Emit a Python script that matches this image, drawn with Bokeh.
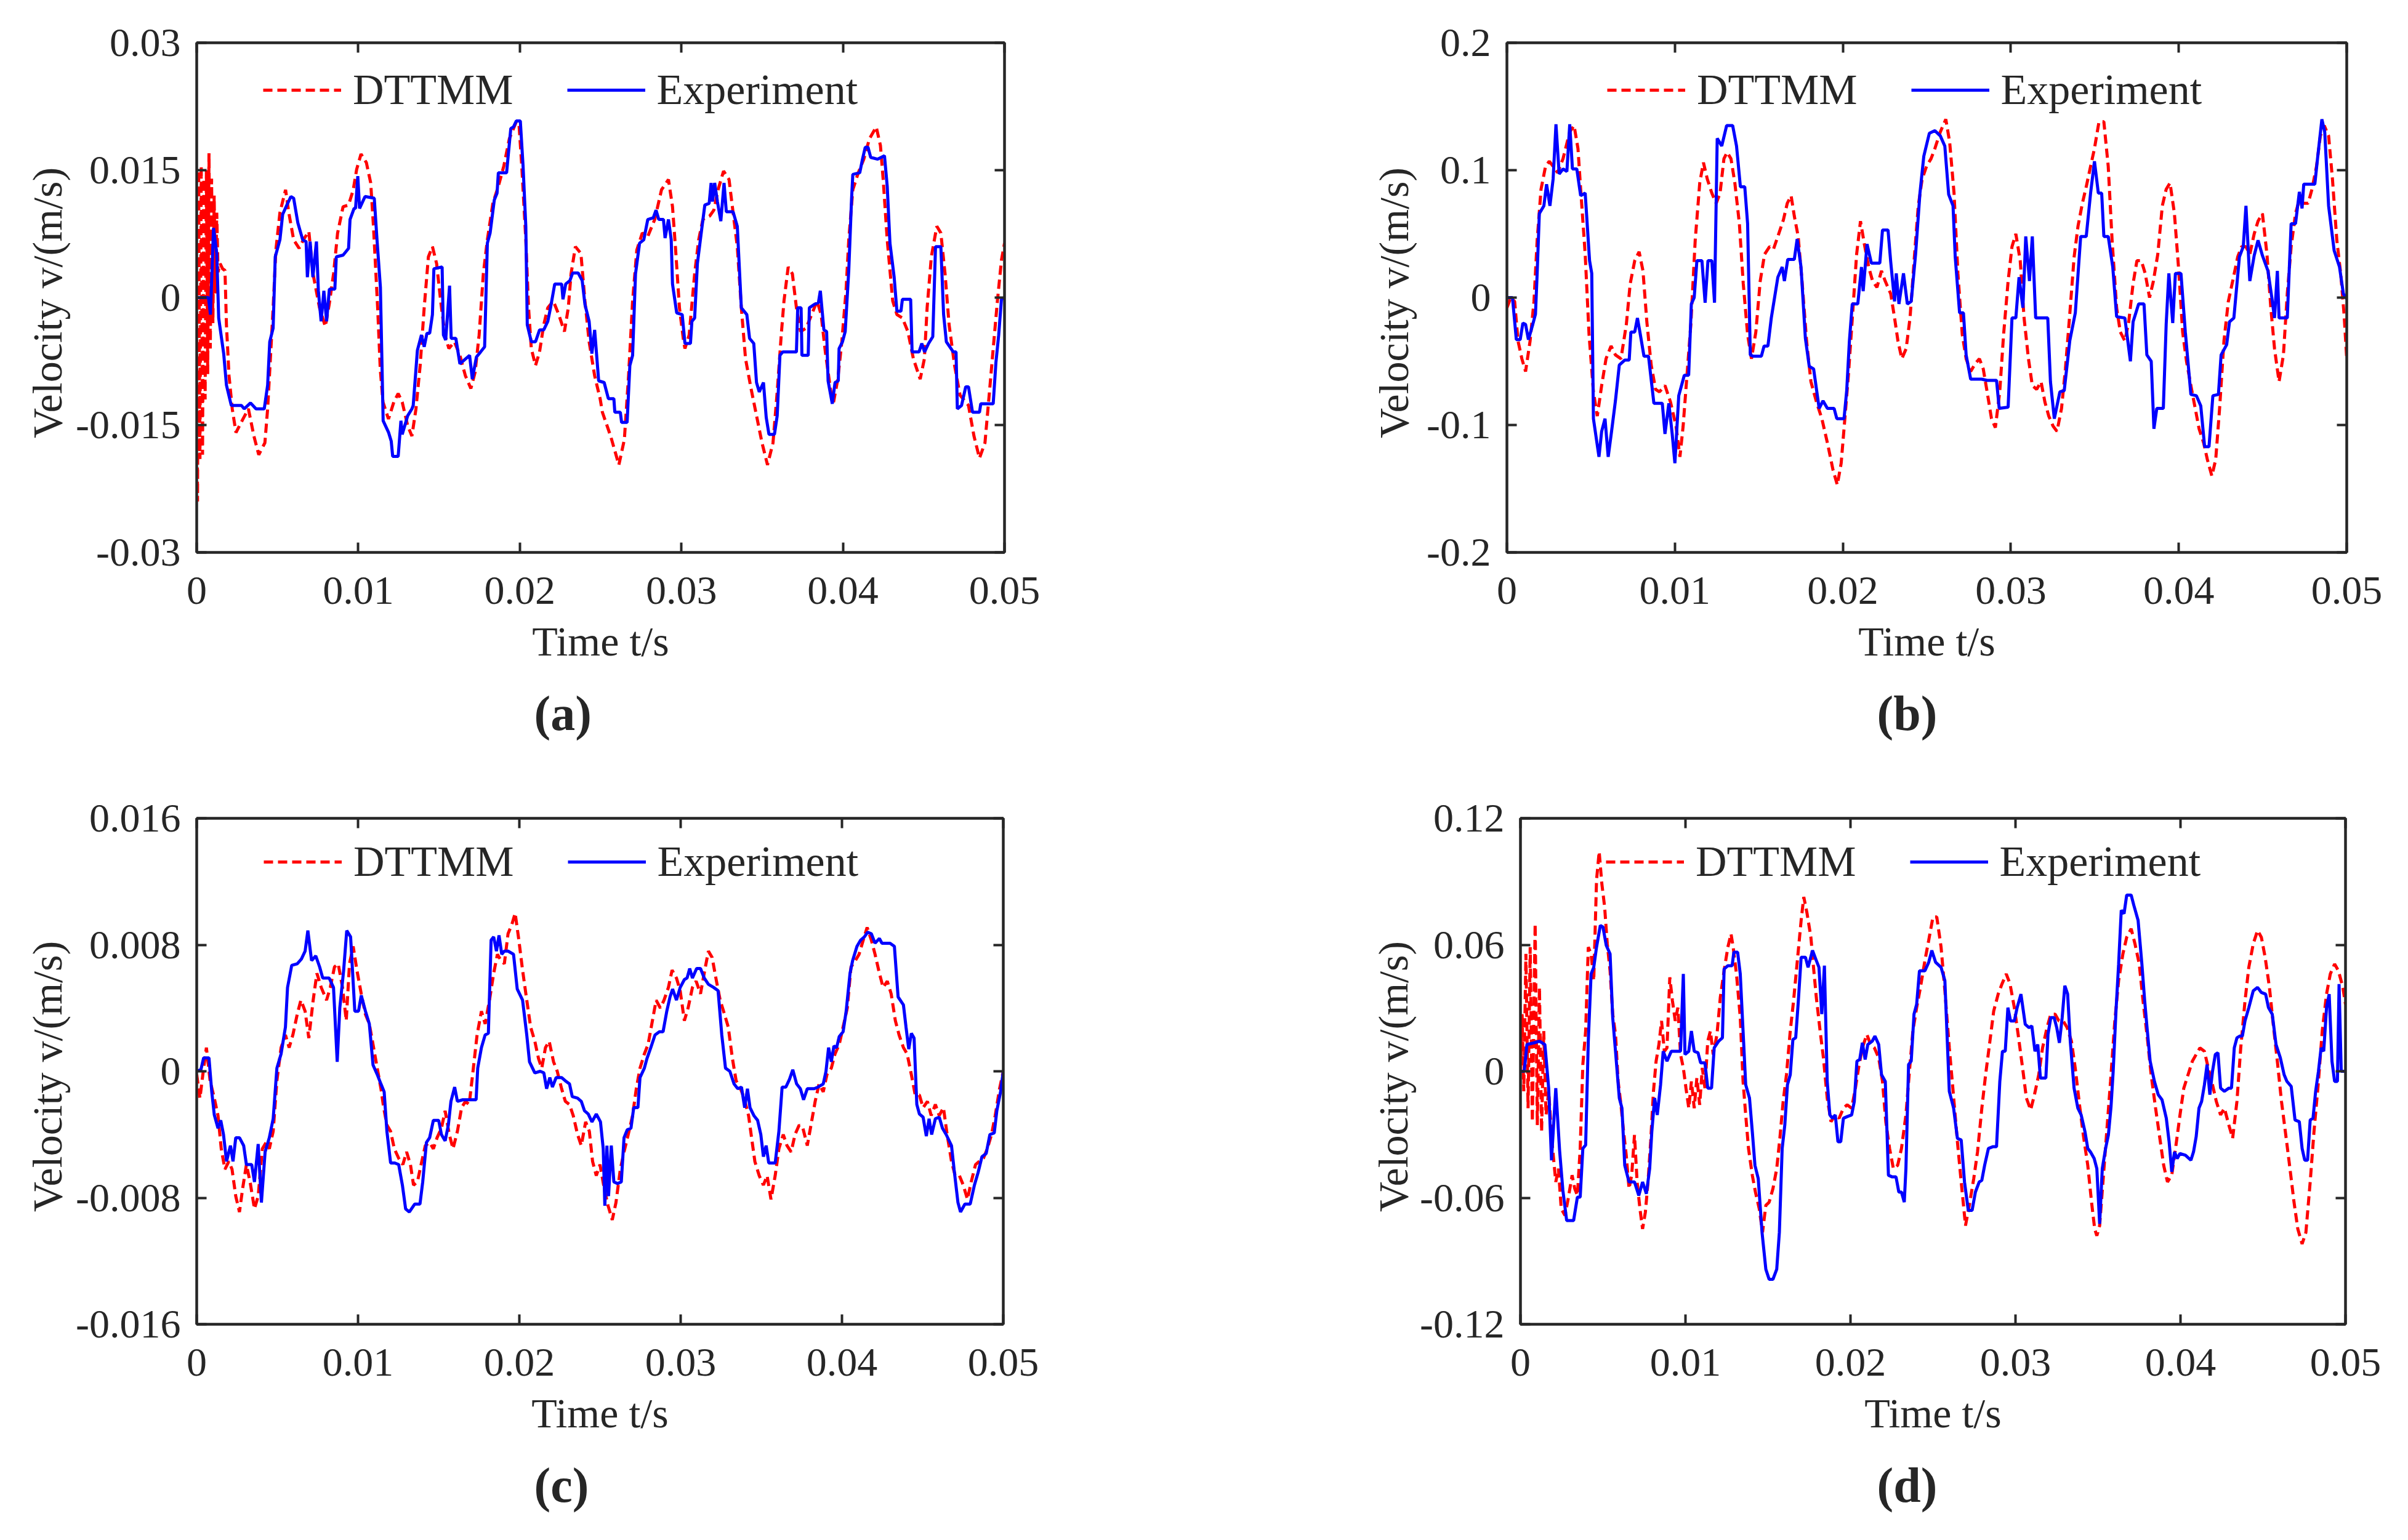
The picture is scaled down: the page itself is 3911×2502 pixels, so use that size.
import numpy as np
from bokeh.plotting import figure
from bokeh.models import (Range1d, LinearAxis, FixedTicker, CustomJSTickFormatter,
                          Legend, LegendItem, Title)
from bokeh.layouts import column, row
from bokeh.embed import file_html
from bokeh.resources import INLINE

# time in ms, velocity in mm/s for (a), (c), (d) and in m/s for (b)

# (a)
t_a_sim = [0, 0.05, 0.12, 0.20, 0.28, 0.36, 0.44, 0.52, 0.60, 0.68, 0.76, 0.84, 0.92, 1.00, 1.08, 1.16, 1.24, 1.32, 1.45, 1.60,
           1.75, 1.84, 2.0, 2.2, 2.43, 2.86, 3.2, 3.54, 3.84, 4.22, 4.39, 4.56, 4.73, 4.90, 5.15, 5.50, 5.70, 6.00, 6.34, 6.60,
           6.94, 7.20, 7.60, 7.96, 8.20, 8.47, 8.72, 9.06, 9.40, 9.69, 9.90, 10.17, 10.50, 10.77, 10.94, 11.20, 11.36, 11.53, 11.87, 12.20,
           12.47, 12.72, 13.06, 13.32, 13.57, 13.83, 14.08, 14.34, 14.59, 14.85, 15.10, 15.36, 15.61, 15.95, 16.29, 16.63, 16.97, 17.23, 17.48, 17.74,
           17.99, 18.33, 18.67, 19.01, 19.35, 19.78, 19.95, 20.12, 20.37, 20.54, 20.71, 20.97, 21.22, 21.48, 21.73, 22.07, 22.41, 22.76, 23.00, 23.17,
           23.44, 23.78, 24.03, 24.29, 24.63, 24.97, 25.11, 25.62, 26.13, 26.47, 26.73, 26.98, 27.24, 27.58, 27.92, 28.35, 28.77, 29.20, 29.45, 29.63,
           29.88, 30.14, 30.22, 30.48, 30.82, 31.07, 31.33, 31.75, 32.01, 32.27, 32.61, 32.95, 33.20, 33.46, 33.71, 33.97, 34.31, 34.65, 34.99, 35.33,
           35.67, 35.93, 36.18, 36.35, 36.61, 36.87, 37.12, 37.38, 37.72, 38.06, 38.40, 38.65, 38.91, 39.25, 39.42, 39.68, 39.93, 40.19, 40.36, 40.61,
           40.95, 41.29, 41.64, 42.06, 42.32, 42.49, 42.74, 43.08, 43.34, 43.68, 44.02, 44.36, 44.78, 45.04, 45.21, 45.47, 45.81, 46.06, 46.32, 46.57,
           46.91, 47.25, 47.77, 48.11, 48.45, 48.79, 49.05, 49.30, 49.56, 49.81, 50.00]
v_a_sim = [0, -24.0, 15.0, -19.0, 15.5, -18.5, 14.0, -12.0, 15.0, -9.0, 17.0, -6.0, 14.0, -3.0, 12.0, 0.5, 10.0, 3.0, 4.0, 3.4,
           3.2, -3.2, -9.2, -13.1, -15.9, -14.3, -13.1, -16.3, -18.5, -17.1, -13.1, -7.2, -1.2, 5.6, 10.0, 12.7, 10.0, 6.8, 5.8, 6.8,
           7.8, 2.8, -1.2, -3.4, -0.8, 2.8, 7.6, 10.7, 10.9, 12.7, 15.1, 16.9, 15.9, 13.5, 8.4, -1.2, -8.4, -12.3, -14.3, -12.3,
           -11.3, -12.3, -15.1, -16.3, -13.1, -8.0, -1.2, 4.8, 6.0, 4.0, -0.4, -4.4, -6.0, -5.2, -6.8, -9.2, -10.7, -8.8, -4.4, 2.8,
           6.8, 11.1, 13.1, 15.5, 18.7, 20.7, 20.3, 15.5, 6.8, -1.2, -6.0, -8.0, -6.4, -3.2, -1.2, -0.4, -2.0, -4.0, -1.2, 2.8,
           6.0, 5.2, -0.4, -5.2, -9.2, -11.9, -13.5, -16.3, -19.7, -16.7, -9.2, -0.4, 5.6, 7.6, 7.2, 9.2, 12.7, 13.9, 10.7, 6.0,
           -1.2, -5.2, -6.0, -4.4, 2.8, 6.8, 9.2, 9.6, 10.3, 12.7, 14.9, 13.9, 10.0, 6.0, -1.2, -7.2, -10.7, -13.9, -17.1, -19.7,
           -17.1, -11.1, -4.4, -0.4, 3.6, 2.8, -1.2, -4.0, -3.6, -2.0, -0.4, -2.0, -6.4, -11.1, -12.3, -9.6, -5.2, 0.8, 6.8, 12.7,
           14.7, 16.3, 18.7, 20.1, 17.9, 13.9, 6.8, -0.4, -2.0, -2.4, -4.0, -7.2, -9.6, -7.2, -1.2, 4.8, 8.4, 7.6, 2.8, -3.2,
           -8.0, -11.5, -12.7, -16.3, -18.9, -17.1, -11.5, -6.0, -0.4, 4.4, 6.4]
t_a_exp = [0, 0.73, 0.85, 1.04, 1.24, 1.36, 1.67, 1.84, 2.14, 2.77, 2.94, 3.33, 3.67, 4.18, 4.39, 4.52, 4.73, 4.86, 5.15, 5.32,
           5.58, 5.83, 6.0, 6.26, 6.56, 6.77, 6.85, 7.02, 7.19, 7.41, 7.53, 7.70, 7.87, 8.04, 8.21, 8.55, 8.64, 9.06, 9.40, 9.49,
           9.74, 9.83, 9.97, 10.08, 10.42, 10.99, 11.16, 11.37, 11.54, 11.88, 12.04, 12.13, 12.47, 12.64, 12.72, 13.06, 13.32, 13.40, 13.66, 13.91,
           14.08, 14.25, 14.42, 14.59, 14.68, 15.19, 15.27, 15.41, 15.65, 15.75, 16.04, 16.29, 16.89, 17.06, 17.31, 17.57, 17.82, 17.99, 18.16, 18.42,
           18.59, 18.67, 19.18, 19.44, 19.61, 19.78, 20.03, 20.20, 20.37, 20.46, 20.71, 20.97, 21.22, 21.48, 21.73, 21.90, 22.16, 22.59, 22.67, 22.84,
           23.10, 23.27, 23.61, 23.86, 24.03, 24.29, 24.46, 24.63, 24.88, 25.22, 25.48, 25.82, 25.88, 26.22, 26.30, 26.64, 26.81, 26.98, 27.16, 27.41,
           27.67, 27.92, 28.26, 28.43, 28.60, 28.89, 28.99, 29.20, 29.37, 29.45, 29.71, 30.05, 30.22, 30.56, 30.65, 30.82, 30.99, 31.24, 31.45, 31.72,
           31.84, 31.93, 32.06, 32.23, 32.44, 32.64, 32.78, 33.20, 33.46, 33.71, 34.05, 34.22, 34.48, 34.65, 34.82, 35.08, 35.25, 35.42, 35.76, 35.93,
           36.10, 36.27, 37.12, 37.20, 37.41, 37.46, 37.85, 37.92, 38.23, 38.48, 38.60, 38.82, 38.99, 39.08, 39.34, 39.51, 39.71, 39.76, 39.97, 40.14,
           40.36, 40.53, 40.61, 41.04, 41.21, 41.38, 41.55, 41.72, 42.15, 42.57, 42.74, 42.91, 43.17, 43.34, 43.59, 43.68, 44.19, 44.28, 44.71, 44.88,
           45.05, 45.30, 45.56, 45.73, 46.06, 46.23, 46.40, 46.83, 47.00, 47.08, 47.34, 47.60, 47.77, 48.02, 48.45, 48.53, 49.30, 49.47, 49.64, 49.81,
           50.0]
v_a_exp = [0, 0, -2.0, 8.2, 5.2, -2.4, -6.6, -10.3, -12.7, -12.7, -13.1, -12.4, -13.1, -13.1, -10.3, -5.2, -3.6, 4.8, 6.8, 9.8,
           10.9, 11.9, 11.7, 8.8, 6.8, 6.6, 2.4, 6.6, 2.4, 6.6, 0.8, -2.8, 0.8, -2.8, 1.0, 1.0, 4.8, 5.0, 5.8, 9.2,
           10.5, 10.5, 14.3, 10.5, 11.9, 11.7, 6.8, 1.2, -14.5, -15.9, -16.9, -18.7, -18.7, -14.5, -16.1, -13.9, -13.1, -12.7, -6.2, -4.4,
           -5.8, -4.2, -4.2, -2.0, 3.4, 3.6, -4.4, -5.0, 1.4, -4.8, -4.8, -7.8, -6.8, -9.6, -7.0, -6.4, -5.8, 6.4, 7.6, 11.5,
           12.3, 14.7, 14.7, 19.9, 20.1, 20.8, 20.8, 15.5, 8.4, -3.2, -5.2, -5.2, -3.8, -3.8, -2.8, -1.2, 1.6, 1.6, -0.2, 1.6,
           2.0, 2.9, 2.9, 2.0, -0.8, -2.8, -6.6, -3.8, -9.8, -10.0, -11.9, -11.9, -13.5, -13.5, -14.7, -14.7, -8.0, -6.8, 2.8, 6.4,
           6.8, 9.2, 9.4, 10.3, 9.2, 9.2, 7.0, 9.2, 6.8, 1.6, -1.8, -2.0, -5.4, -5.4, -2.8, -2.4, 4.0, 7.8, 10.9, 11.1,
           13.5, 11.3, 13.5, 11.3, 9.0, 13.5, 10.1, 10.1, 8.4, -1.2, -2.0, -4.8, -5.4, -10.0, -11.1, -10.0, -14.1, -16.1, -16.1, -13.9,
           -6.8, -6.4, -6.4, -1.2, -1.2, -6.8, -6.8, -1.2, -0.8, -0.6, 0.8, -3.8, -4.0, -9.8, -12.5, -10.0, -9.8, -6.0, -5.2, -4.0,
           3.2, 11.5, 14.5, 14.7, 16.3, 17.7, 17.7, 16.5, 16.3, 16.7, 13.1, 6.4, 2.4, -1.6, -1.6, -0.2, -0.2, -6.4, -6.4, -5.4,
           -6.4, -5.4, -4.6, 6.0, 6.0, -2.0, -5.2, -6.4, -6.4, -13.1, -12.7, -10.5, -10.5, -13.5, -13.5, -12.5, -12.5, -7.6, -4.4, -0.2,
           0]

# (b)
t_b_sim = [0, 0.23, 0.46, 0.66, 0.89, 1.11, 1.38, 1.61, 1.80, 2.03, 2.30, 2.52, 2.75, 3.02, 3.34, 3.74, 4.0, 4.23, 4.39, 4.66,
           4.89, 5.15, 5.38, 5.64, 5.90, 6.20, 6.46, 6.79, 7.11, 7.34, 7.61, 7.87, 8.10, 8.33, 8.59, 8.85, 9.08, 9.41, 9.74, 10.07,
           10.30, 10.49, 10.72, 10.95, 11.21, 11.48, 11.70, 11.93, 12.20, 12.46, 12.69, 12.92, 13.11, 13.34, 13.57, 13.84, 14.07, 14.33, 14.56, 14.82,
           15.08, 15.34, 15.64, 15.87, 16.13, 16.46, 16.69, 16.92, 17.11, 17.34, 17.57, 17.84, 18.10, 18.43, 18.75, 19.08, 19.41, 19.67, 19.90, 20.07,
           20.33, 20.59, 20.82, 21.05, 21.28, 21.54, 21.77, 22.03, 22.30, 22.52, 22.85, 23.08, 23.28, 23.51, 23.77, 24.0, 24.26, 24.49, 24.72, 24.98,
           25.25, 25.48, 25.80, 26.13, 26.36, 26.62, 26.85, 27.11, 27.34, 27.61, 27.87, 28.13, 28.36, 28.59, 28.85, 29.08, 29.34, 29.57, 29.84, 30.07,
           30.30, 30.56, 30.79, 31.05, 31.28, 31.54, 31.80, 32.03, 32.26, 32.52, 32.75, 33.02, 33.25, 33.51, 33.77, 34.0, 34.26, 34.49, 34.75, 34.98,
           35.25, 35.54, 35.80, 36.03, 36.30, 36.52, 36.79, 37.02, 37.28, 37.51, 37.77, 38.0, 38.26, 38.49, 38.75, 39.02, 39.25, 39.48, 39.74, 40.0,
           40.23, 40.46, 40.72, 40.98, 41.21, 41.48, 41.70, 41.97, 42.20, 42.43, 42.69, 42.95, 43.21, 43.51, 43.74, 44.0, 44.23, 44.49, 44.72, 44.98,
           45.25, 45.48, 45.70, 45.97, 46.23, 46.46, 46.69, 46.95, 47.18, 47.44, 47.70, 47.93, 48.20, 48.43, 48.66, 48.92, 49.15, 49.41, 49.64, 49.84,
           50.0]
v_b_sim = [-0.008, 0, -0.003, -0.034, -0.048, -0.058, -0.034, -0.003, 0.045, 0.085, 0.103, 0.107, 0.103, 0.098, 0.109, 0.130, 0.135, 0.117, 0.085, 0.034,
           -0.029, -0.074, -0.093, -0.069, -0.048, -0.038, -0.045, -0.048, -0.021, 0.011, 0.029, 0.036, 0.021, -0.019, -0.053, -0.072, -0.074, -0.069, -0.082, -0.101,
           -0.125, -0.101, -0.061, -0.021, 0.045, 0.090, 0.106, 0.093, 0.082, 0.074, 0.082, 0.109, 0.114, 0.109, 0.090, 0.058, 0.011, -0.029, -0.048, -0.027,
           0.013, 0.034, 0.040, 0.038, 0.048, 0.061, 0.074, 0.080, 0.064, 0.048, 0.013, -0.034, -0.066, -0.082, -0.095, -0.114, -0.135, -0.147, -0.130, -0.103,
           -0.061, -0.011, 0.034, 0.060, 0.042, 0.024, 0.013, 0.008, 0.021, 0.013, 0.003, -0.016, -0.034, -0.048, -0.040, -0.016, 0.032, 0.072, 0.093, 0.103,
           0.109, 0.117, 0.130, 0.140, 0.122, 0.082, 0.019, -0.029, -0.048, -0.058, -0.052, -0.048, -0.056, -0.074, -0.095, -0.102, -0.074, -0.029, 0.013, 0.040,
           0.050, 0.029, -0.016, -0.048, -0.069, -0.072, -0.066, -0.082, -0.093, -0.101, -0.105, -0.087, -0.056, -0.013, 0.032, 0.056, 0.074, 0.087, 0.103, 0.117,
           0.138, 0.138, 0.103, 0.045, -0.008, -0.027, -0.034, -0.019, 0.011, 0.029, 0.029, 0.019, 0, 0.013, 0.034, 0.072, 0.085, 0.090, 0.066, 0.021,
           -0.027, -0.050, -0.069, -0.087, -0.103, -0.114, -0.127, -0.140, -0.127, -0.087, -0.034, -0.003, 0.013, 0.032, 0.040, 0.040, 0.034, 0.050, 0.060, 0.066,
           0.034, -0.008, -0.040, -0.066, -0.045, 0.003, 0.040, 0.066, 0.077, 0.074, 0.074, 0.085, 0.103, 0.127, 0.135, 0.127, 0.093, 0.045, 0.019, -0.013,
           -0.048]
t_b_exp = [0, 0.33, 0.56, 0.79, 0.95, 1.11, 1.28, 1.54, 1.70, 1.80, 1.93, 2.20, 2.36, 2.56, 2.75, 2.92, 3.11, 3.34, 3.57, 3.74,
           3.90, 4.16, 4.39, 4.66, 4.92, 5.05, 5.15, 5.48, 5.64, 5.84, 6.03, 6.23, 6.46, 6.69, 7.02, 7.28, 7.38, 7.61, 7.77, 7.93,
           8.16, 8.43, 8.75, 9.25, 9.41, 9.64, 9.84, 10.0, 10.23, 10.56, 10.82, 10.98, 11.15, 11.31, 11.61, 11.80, 11.97, 12.20, 12.36, 12.52,
           12.79, 13.08, 13.44, 13.67, 13.90, 14.16, 14.33, 14.49, 14.66, 15.15, 15.31, 15.54, 15.74, 16.13, 16.39, 16.52, 16.72, 17.11, 17.28, 17.51,
           17.77, 18.0, 18.26, 18.59, 18.82, 19.08, 19.48, 19.64, 20.07, 20.23, 20.39, 20.56, 20.89, 21.11, 21.21, 21.44, 21.70, 22.20, 22.36, 22.69,
           22.85, 23.08, 23.18, 23.34, 23.61, 23.84, 24.07, 24.33, 24.59, 24.82, 25.15, 25.48, 25.80, 26.07, 26.30, 26.56, 26.69, 26.95, 27.18, 27.34,
           27.61, 28.26, 28.59, 29.15, 29.31, 29.84, 30.07, 30.30, 30.49, 30.72, 30.89, 31.11, 31.28, 31.48, 32.20, 32.36, 32.59, 32.92, 33.18, 33.51,
           33.84, 34.16, 34.49, 34.75, 34.98, 35.21, 35.41, 35.54, 35.80, 36.07, 36.30, 36.79, 37.12, 37.28, 37.61, 37.93, 38.10, 38.36, 38.52, 38.69,
           39.08, 39.25, 39.41, 39.64, 39.80, 40.13, 40.39, 40.72, 41.05, 41.31, 41.54, 41.80, 42.03, 42.36, 42.52, 42.85, 43.02, 43.28, 43.61, 43.84,
           44.00, 44.23, 44.49, 44.72, 44.98, 45.31, 45.54, 45.70, 45.87, 45.97, 46.46, 46.69, 46.95, 47.18, 47.34, 47.44, 48.10, 48.26, 48.52, 48.69,
           48.92, 49.25, 49.57, 49.80, 50.0]
v_b_exp = [0, 0, -0.033, -0.033, -0.020, -0.021, -0.033, -0.021, -0.013, 0.019, 0.066, 0.072, 0.089, 0.072, 0.093, 0.136, 0.097, 0.101, 0.099, 0.136,
           0.101, 0.101, 0.080, 0.082, 0.029, 0.019, -0.095, -0.125, -0.105, -0.095, -0.125, -0.105, -0.081, -0.053, -0.049, -0.049, -0.027, -0.027, -0.016, -0.028,
           -0.046, -0.046, -0.083, -0.083, -0.107, -0.083, -0.107, -0.130, -0.077, -0.061, -0.061, -0.005, 0, 0.029, 0.029, -0.004, 0.029, 0.029, -0.004, 0.125,
           0.119, 0.135, 0.135, 0.119, 0.087, 0.087, 0.058, -0.045, -0.046, -0.046, -0.038, -0.038, -0.016, 0.016, 0.024, 0.013, 0.030, 0.030, 0.046, 0.024,
           -0.032, -0.054, -0.056, -0.087, -0.081, -0.087, -0.087, -0.095, -0.095, -0.073, -0.034, -0.005, -0.005, 0.024, 0.005, 0.042, 0.027, 0.027, 0.053, 0.053,
           0.028, -0.003, 0.019, -0.005, 0.019, -0.005, -0.003, 0.034, 0.082, 0.111, 0.129, 0.131, 0.127, 0.119, 0.081, 0.072, 0.032, -0.012, -0.012, -0.045,
           -0.064, -0.064, -0.065, -0.065, -0.087, -0.086, -0.016, -0.016, 0.016, -0.008, 0.048, 0.013, 0.048, -0.016, -0.016, -0.066, -0.095, -0.074, -0.073, -0.034,
           -0.012, 0.048, 0.048, 0.082, 0.107, 0.082, 0.082, 0.048, 0.048, 0.024, -0.015, -0.016, -0.050, -0.019, -0.005, -0.005, -0.045, -0.050, -0.103, -0.087,
           -0.087, -0.021, 0.019, -0.020, 0.019, 0.019, -0.027, -0.076, -0.077, -0.085, -0.117, -0.117, -0.077, -0.076, -0.045, -0.037, -0.019, -0.016, 0.032, 0.040,
           0.072, 0.013, 0.033, 0.045, 0.033, 0.021, 0, -0.016, 0.021, -0.016, -0.016, 0.058, 0.058, 0.083, 0.070, 0.089, 0.089, 0.109, 0.140, 0.130,
           0.072, 0.037, 0.024, 0.003, -0.001]

# (c)
t_c_sim = [0, 0.2, 0.43, 0.6, 0.83, 1.09, 1.32, 1.52, 1.75, 1.99, 2.19, 2.42, 2.65, 2.85, 3.08, 3.31, 3.58, 3.81, 4.07, 4.30,
           4.50, 4.74, 4.97, 5.23, 5.50, 5.73, 5.96, 6.23, 6.46, 6.72, 6.95, 7.22, 7.45, 7.72, 8.05, 8.28, 8.54, 8.77, 9.04, 9.27,
           9.47, 9.70, 9.93, 10.20, 10.46, 10.70, 10.93, 11.19, 11.42, 11.59, 11.79, 12.02, 12.25, 12.52, 12.78, 13.01, 13.25, 13.44, 13.68, 13.91,
           14.17, 14.44, 14.67, 14.90, 15.17, 15.40, 15.66, 15.89, 16.16, 16.42, 16.66, 16.89, 17.15, 17.38, 17.65, 17.88, 18.15, 18.41, 18.64, 18.87,
           19.07, 19.30, 19.54, 19.74, 19.97, 20.20, 20.46, 20.70, 20.96, 21.19, 21.39, 21.62, 21.85, 22.12, 22.35, 22.62, 22.85, 23.11, 23.34, 23.61,
           23.84, 24.11, 24.34, 24.54, 24.77, 25.0, 25.26, 25.50, 25.76, 25.99, 26.26, 26.49, 26.75, 27.02, 27.25, 27.48, 27.75, 27.98, 28.25, 28.48,
           28.74, 28.97, 29.24, 29.47, 29.74, 29.97, 30.23, 30.46, 30.73, 30.96, 31.23, 31.46, 31.72, 31.95, 32.22, 32.45, 32.72, 32.95, 33.21, 33.44,
           33.71, 33.94, 34.21, 34.37, 34.60, 34.87, 35.13, 35.36, 35.60, 35.86, 36.09, 36.36, 36.59, 36.85, 37.09, 37.35, 37.58, 37.85, 38.08, 38.34,
           38.58, 38.84, 39.07, 39.34, 39.57, 39.83, 40.07, 40.33, 40.56, 40.83, 41.06, 41.32, 41.56, 41.82, 42.05, 42.32, 42.55, 42.81, 43.05, 43.31,
           43.54, 43.81, 44.04, 44.30, 44.54, 44.80, 45.03, 45.30, 45.53, 45.79, 46.03, 46.29, 46.52, 46.79, 47.02, 47.28, 47.52, 47.78, 48.01, 48.28,
           48.51, 48.77, 49.01, 49.27, 49.50, 49.77, 50.0]
v_c_sim = [-0.2, -1.7, 0.2, 1.5, -0.6, -1.7, -2.8, -4.9, -6.2, -5.7, -6.2, -7.9, -8.9, -7.4, -5.9, -7.0, -8.7, -7.9, -4.9, -4.5,
           -4.9, -3.8, -0.6, 1.5, 2.3, 1.5, 2.3, 3.6, 4.5, 3.8, 2.1, 4.5, 6.2, 5.3, 4.5, 5.3, 6.6, 6.8, 5.3, 3.2,
           6.8, 7.9, 6.4, 4.9, 3.6, 3.0, 1.7, 0.2, -1.1, -2.3, -3.4, -3.8, -4.9, -5.5, -5.9, -5.1, -5.9, -7.2, -7.0, -5.9,
           -4.7, -4.5, -4.9, -4.2, -3.6, -2.5, -4.0, -4.9, -3.8, -2.3, -1.9, -2.1, 0.2, 2.3, 3.8, 3.0, 4.5, 6.2, 7.4, 7.0,
           6.8, 8.7, 9.3, 10.0, 8.3, 6.4, 4.5, 2.8, 1.9, 0.8, 0.2, 1.5, 1.9, 0.6, 0, -1.1, -1.9, -2.1, -2.8, -4.0,
           -4.7, -3.2, -3.8, -5.7, -6.6, -5.9, -7.4, -8.5, -9.4, -8.3, -6.2, -5.1, -4.0, -2.8, -1.1, 0.2, 1.1, 1.7, 3.2, 4.5,
           4.0, 4.5, 5.3, 6.4, 5.9, 5.1, 3.2, 4.0, 5.3, 5.7, 4.9, 6.2, 7.6, 7.2, 5.7, 4.5, 3.6, 2.8, 0.8, -0.6,
           -1.1, -1.7, -2.8, -4.0, -5.7, -6.6, -7.2, -6.6, -8.1, -6.6, -4.9, -4.0, -4.7, -5.1, -4.0, -3.4, -3.6, -4.7, -3.4, -1.9,
           -0.8, -1.3, -0.2, 0.2, 1.1, 1.7, 2.8, 4.0, 6.6, 7.0, 7.4, 8.3, 9.1, 8.3, 7.4, 6.2, 5.3, 5.7, 4.9, 3.2,
           2.3, 1.5, 1.1, -0.2, -1.5, -1.5, -2.3, -1.9, -2.8, -2.1, -2.8, -2.3, -4.0, -5.7, -6.6, -6.6, -7.2, -8.1, -7.0, -5.9,
           -5.7, -5.5, -4.9, -4.0, -2.8, -1.1, 0]
t_c_exp = [0, 0.26, 0.43, 0.76, 0.93, 1.09, 1.32, 1.49, 1.66, 1.85, 2.09, 2.25, 2.42, 2.65, 2.91, 3.08, 3.41, 3.58, 3.81, 4.01,
           4.24, 4.50, 4.74, 4.97, 5.23, 5.50, 5.63, 5.89, 6.23, 6.49, 6.72, 6.89, 7.12, 7.38, 7.62, 7.81, 8.21, 8.48, 8.71, 8.87,
           9.11, 9.30, 9.54, 9.80, 10.03, 10.20, 10.46, 10.70, 10.93, 11.19, 11.42, 11.62, 11.79, 12.02, 12.28, 12.52, 12.75, 12.95, 13.18, 13.51,
           13.84, 14.01, 14.24, 14.44, 14.67, 15.0, 15.17, 15.40, 15.60, 15.76, 15.99, 16.16, 16.49, 16.99, 17.32, 17.42, 17.65, 17.88, 18.08, 18.25,
           18.41, 18.58, 18.74, 18.91, 19.07, 19.30, 19.64, 19.87, 20.20, 20.46, 20.63, 20.96, 21.29, 21.52, 21.69, 21.89, 22.05, 22.28, 22.62, 22.85,
           23.11, 23.28, 23.61, 23.84, 24.04, 24.27, 24.50, 24.77, 25.03, 25.20, 25.30, 25.43, 25.53, 25.70, 25.86, 26.09, 26.32, 26.49, 26.69, 26.92,
           27.09, 27.35, 27.48, 27.75, 27.91, 28.15, 28.41, 28.68, 28.91, 29.14, 29.34, 29.50, 29.74, 29.97, 30.23, 30.40, 30.56, 30.73, 30.99, 31.23,
           31.46, 31.72, 32.05, 32.32, 32.55, 32.78, 33.05, 33.31, 33.54, 33.77, 33.97, 34.14, 34.30, 34.54, 34.77, 34.97, 35.13, 35.30, 35.46, 35.86,
           36.09, 36.29, 36.52, 36.75, 36.95, 37.19, 37.42, 37.62, 37.85, 38.28, 38.51, 38.84, 39.01, 39.17, 39.34, 39.50, 39.67, 39.83, 40.07, 40.26,
           40.50, 40.66, 40.93, 41.16, 41.39, 41.59, 41.82, 42.05, 42.32, 42.48, 42.98, 43.25, 43.48, 43.81, 43.97, 44.14, 44.30, 44.47, 44.64, 44.80,
           45.03, 45.23, 45.40, 45.56, 45.79, 46.03, 46.23, 46.46, 46.79, 46.95, 47.19, 47.35, 47.62, 47.95, 48.21, 48.44, 48.68, 48.94, 49.17, 49.44,
           49.60, 49.83, 50.0]
v_c_exp = [0, 0.1, 0.85, 0.85, -1.27, -2.76, -3.6, -3.1, -4.0, -5.7, -4.7, -5.7, -4.2, -4.2, -4.7, -5.9, -5.9, -7.0, -4.6, -8.3,
           -5.1, -4.2, -3.0, 0.2, 1.1, 2.8, 5.3, 6.7, 6.8, 7.1, 7.6, 8.9, 7.0, 7.3, 6.6, 5.9, 5.9, 5.3, 0.6, 4.0,
           6.4, 8.9, 8.5, 3.8, 3.8, 4.8, 3.8, 3.0, 0.4, -0.2, -0.8, -1.3, -3.8, -5.8, -5.8, -5.9, -7.2, -8.7, -8.9, -8.4,
           -8.4, -7.0, -4.5, -4.2, -3.1, -3.1, -4.0, -4.4, -3.4, -1.9, -1.0, -1.9, -1.8, -1.8, -1.8, 0.2, 1.5, 2.3, 2.4, 8.3,
           8.5, 7.6, 8.6, 7.4, 7.6, 7.6, 7.4, 5.2, 4.5, 2.3, 0.6, -0.1, 0, -0.1, -1.1, -0.4, -1.0, -0.4, -0.4, -0.6,
           -0.8, -1.6, -1.7, -1.9, -2.5, -2.7, -3.2, -2.7, -3.2, -4.9, -8.5, -4.7, -7.9, -4.7, -7.0, -7.1, -7.0, -4.2, -3.7, -3.6,
           -2.3, -2.3, -0.4, 0.2, 0.8, 1.5, 2.3, 2.5, 2.5, 3.8, 4.7, 5.2, 4.5, 5.3, 5.8, 5.9, 6.5, 5.9, 6.5, 6.5,
           5.9, 5.5, 5.3, 5.1, 2.3, 0.2, 0, -0.8, -1.1, -1.0, -2.3, -1.1, -2.3, -2.8, -3.1, -4.0, -5.4, -4.7, -5.8, -5.8,
           -3.8, -1.0, -1.0, -0.5, 0.1, -0.8, -1.1, -1.8, -1.1, -1.1, -1.0, -0.8, 0, 1.5, 0.6, 1.6, 1.5, 2.2, 2.5, 3.8,
           6.2, 7.0, 7.9, 8.3, 8.5, 8.8, 8.7, 8.1, 8.4, 8.1, 8.1, 7.9, 4.7, 4.2, 2.8, 1.4, 2.4, 2.1, -2.1, -2.7,
           -2.9, -4.1, -3.0, -4.0, -3.0, -2.9, -3.6, -4.0, -4.7, -6.2, -8.3, -8.9, -8.4, -8.4, -7.2, -6.4, -5.4, -5.2, -4.0, -3.9,
           -2.5, -1.3, 0]

# (d)
t_d_sim = [0, 0.10, 0.20, 0.33, 0.46, 0.59, 0.72, 0.89, 1.02, 1.15, 1.28, 1.41, 1.55, 1.71, 1.91, 2.14, 2.30, 2.47, 2.70, 2.89,
           3.13, 3.29, 3.45, 3.62, 3.78, 3.95, 4.11, 4.28, 4.44, 4.61, 4.77, 4.93, 5.10, 5.26, 5.43, 5.59, 5.76, 5.92, 6.09, 6.25,
           6.41, 6.58, 6.74, 6.91, 7.07, 7.24, 7.40, 7.57, 7.73, 7.89, 8.06, 8.22, 8.39, 8.55, 8.72, 8.88, 9.05, 9.21, 9.38, 9.54,
           9.70, 9.87, 10.03, 10.20, 10.36, 10.53, 10.69, 10.86, 11.02, 11.18, 11.35, 11.51, 11.68, 11.91, 12.11, 12.34, 12.57, 12.76, 12.89, 13.09,
           13.32, 13.49, 13.65, 13.82, 14.05, 14.24, 14.47, 14.67, 14.87, 15.07, 15.30, 15.53, 15.72, 15.92, 16.12, 16.35, 16.55, 16.78, 17.01, 17.17,
           17.37, 17.60, 17.76, 17.93, 18.16, 18.36, 18.59, 18.82, 19.08, 19.31, 19.57, 19.80, 20.07, 20.30, 20.49, 20.72, 20.99, 21.22, 21.45, 21.71,
           21.94, 22.14, 22.37, 22.60, 22.86, 23.09, 23.36, 23.59, 23.78, 24.01, 24.24, 24.51, 24.74, 25.00, 25.23, 25.49, 25.72, 25.99, 26.22, 26.48,
           26.71, 26.97, 27.20, 27.47, 27.70, 27.96, 28.19, 28.45, 28.68, 28.95, 29.18, 29.44, 29.67, 29.93, 30.16, 30.43, 30.66, 30.92, 31.15, 31.41,
           31.64, 31.91, 32.14, 32.40, 32.63, 32.89, 33.13, 33.39, 33.62, 33.88, 34.11, 34.38, 34.61, 34.80, 34.93, 35.10, 35.30, 35.53, 35.76, 36.02,
           36.25, 36.51, 36.74, 37.01, 37.24, 37.50, 37.73, 37.99, 38.22, 38.49, 38.72, 38.98, 39.21, 39.47, 39.70, 39.97, 40.20, 40.46, 40.72, 40.95,
           41.18, 41.45, 41.68, 41.94, 42.17, 42.43, 42.66, 42.93, 43.16, 43.42, 43.65, 43.91, 44.14, 44.41, 44.67, 44.90, 45.13, 45.39, 45.62, 45.89,
           46.12, 46.38, 46.61, 46.88, 47.11, 47.37, 47.60, 47.86, 48.09, 48.36, 48.59, 48.85, 49.08, 49.34, 49.57, 49.84, 50.00]
v_d_sim = [0, 27.1, -9.5, 55.7, -17.5, 58.9, -23.9, 70.0, -25.5, 39.8, -28.6, 19.1, -20.7, -9.5, -33.4, -52.5, -46.2, -65.2, -68.4, -60.5,
           -49.3, -55.7, -58.9, -36.6, 3.2, 19.1, 58.9, 55.7, 43.0, 90.7, 104.2, 89.1, 78.0, 60.5, 47.7, 27.1, 17.5, -4.8, -15.9, -28.6,
           -39.8, -55.7, -49.3, -30.2, -52.5, -65.2, -74.8, -66.8, -52.5, -33.4, -9.5, 4.8, 12.7, 23.9, 9.5, 11.1, 44.6, 33.4, 23.9, 30.2,
           8.0, 1.6, -8.0, -17.5, -4.8, -17.5, -3.2, -15.9, 1.6, -8.0, 14.3, 19.1, 8.0, 17.5, 35.0, 47.7, 58.9, 65.2, 58.9, 46.2,
           25.5, -4.8, -20.7, -36.6, -49.3, -57.3, -65.2, -76.4, -63.6, -62.1, -55.7, -46.2, -31.8, -14.3, -1.6, 19.1, 33.4, 52.5, 71.6, 82.7,
           74.8, 63.6, 49.3, 35.0, 19.1, 6.4, -12.7, -23.9, -20.7, -22.3, -17.5, -15.9, -17.5, -8.0, 1.6, 11.1, 17.5, 12.7, 11.1, 6.4,
           -4.8, -23.9, -36.6, -46.2, -44.6, -36.6, -20.7, 1.6, 19.1, 30.2, 39.8, 52.5, 62.1, 73.2, 73.2, 58.9, 38.2, 11.1, -9.5, -33.4,
           -52.5, -73.2, -63.6, -50.9, -38.2, -17.5, -1.6, 14.3, 28.6, 36.6, 41.4, 46.2, 41.4, 30.2, 17.5, 1.6, -12.7, -18.3, -11.1, -1.6,
           11.1, 20.7, 27.1, 27.1, 23.9, 23.9, 20.7, 14.3, 1.6, -15.9, -30.2, -44.6, -62.1, -74.8, -78.0, -73.2, -52.5, -28.6, -4.8, 23.9,
           43.0, 55.7, 63.6, 67.6, 60.5, 50.9, 33.4, 15.9, -1.6, -17.5, -30.2, -44.6, -52.5, -49.3, -36.6, -20.7, -8.0, -1.6, 4.8, 8.0,
           11.1, 9.5, 1.6, -6.4, -14.3, -20.7, -17.5, -25.5, -31.8, -14.3, 11.1, 33.4, 49.3, 60.5, 66.8, 63.6, 54.1, 39.8, 22.3, 3.2,
           -14.3, -30.2, -44.6, -62.1, -74.8, -81.9, -76.4, -52.5, -28.6, -4.8, 19.1, 36.6, 46.2, 50.9, 47.7, 39.8, 31.8]
t_d_exp = [0, 0.23, 0.39, 0.82, 1.15, 1.48, 1.71, 1.88, 2.14, 2.37, 2.57, 2.80, 3.22, 3.45, 3.62, 3.78, 3.95, 4.11, 4.28, 4.44,
           4.61, 4.84, 5.00, 5.20, 5.43, 5.59, 5.76, 5.99, 6.15, 6.32, 6.58, 6.91, 7.17, 7.40, 7.63, 7.83, 7.96, 8.13, 8.29, 8.49,
           8.65, 8.88, 9.14, 9.70, 9.87, 9.97, 10.20, 10.36, 10.53, 10.76, 10.92, 11.18, 11.35, 11.58, 11.74, 12.01, 12.24, 12.34, 12.57, 12.83,
           12.93, 13.16, 13.32, 13.49, 13.65, 13.88, 14.05, 14.21, 14.41, 14.64, 14.87, 15.07, 15.30, 15.53, 15.69, 15.86, 16.02, 16.18, 16.35, 16.51,
           16.68, 16.84, 17.01, 17.27, 17.43, 17.70, 17.93, 18.09, 18.26, 18.42, 18.59, 18.75, 18.91, 19.08, 19.24, 19.41, 19.57, 19.80, 20.07, 20.23,
           20.39, 20.56, 20.72, 20.89, 21.05, 21.32, 21.48, 21.71, 21.88, 22.11, 22.30, 22.53, 22.76, 22.93, 23.09, 23.26, 23.36, 23.52, 23.68, 23.85,
           24.01, 24.18, 24.51, 24.74, 24.93, 25.16, 25.49, 25.72, 25.99, 26.25, 26.48, 26.71, 26.91, 27.14, 27.37, 27.57, 27.80, 27.96, 28.13, 28.36,
           28.62, 28.85, 29.05, 29.21, 29.38, 29.54, 29.70, 29.93, 30.10, 30.33, 30.59, 30.82, 30.99, 31.18, 31.35, 31.51, 31.84, 31.97, 32.14, 32.34,
           32.50, 32.66, 32.83, 32.99, 33.16, 33.32, 33.55, 33.78, 33.98, 34.21, 34.38, 34.54, 34.77, 34.93, 35.10, 35.26, 35.46, 35.63, 35.79, 35.92,
           36.09, 36.25, 36.41, 36.58, 36.74, 37.01, 37.17, 37.43, 37.66, 37.83, 37.99, 38.16, 38.42, 38.65, 38.88, 39.14, 39.31, 39.47, 39.64, 39.80,
           39.97, 40.30, 40.63, 40.79, 40.95, 41.12, 41.28, 41.45, 41.61, 41.78, 41.94, 42.11, 42.27, 42.43, 42.66, 42.93, 43.09, 43.26, 43.42, 43.59,
           43.75, 43.91, 44.14, 44.41, 44.67, 44.90, 45.16, 45.33, 45.56, 45.79, 46.05, 46.28, 46.45, 46.71, 46.94, 47.20, 47.37, 47.53, 47.70, 47.86,
           48.03, 48.19, 48.36, 48.52, 48.68, 48.85, 49.01, 49.18, 49.34, 49.51, 49.61, 49.74, 50.0]
v_d_exp = [0, 0, 12.7, 13.5, 14.3, 12.7, -8.0, -42.2, -8.0, -37.4, -56.5, -70.8, -70.8, -59.7, -59.7, -36.6, -35.0, 14.3, 46.2, 49.3,
           58.9, 69.2, 68.4, 59.7, 55.7, 25.5, 9.5, -12.7, -17.5, -44.6, -52.5, -52.5, -58.9, -52.5, -58.1, -46.2, -28.6, -12.7, -20.7, -6.4,
           9.5, 4.8, 9.5, 9.5, 46.2, 8.0, 9.5, 19.1, 9.5, 8.8, 4.0, 4.0, -8.0, -8.0, 11.1, 14.3, 15.9, 48.5, 50.1, 50.1,
           56.5, 56.5, 46.2, 19.1, -6.4, -12.7, -28.6, -44.6, -50.9, -76.4, -93.9, -98.7, -98.7, -93.9, -76.4, -36.6, -25.5, -6.4, -1.6, 15.1,
           15.9, 33.4, 54.1, 54.1, 49.3, 57.3, 52.5, 49.3, 27.1, 50.1, -4.8, -20.7, -22.3, -20.7, -33.4, -33.4, -22.3, -21.5, -20.7, -14.3,
           4.8, 5.6, 13.5, 5.6, 12.7, 14.3, 16.7, 12.7, -1.6, -4.8, -49.3, -50.1, -50.1, -57.3, -57.3, -62.1, -46.2, 3.2, 4.8, 27.1,
           31.8, 47.7, 47.7, 51.7, 57.3, 51.7, 49.3, 43.0, -9.5, -17.5, -31.8, -32.6, -52.5, -66.0, -66.0, -57.3, -52.5, -51.7, -44.6, -36.6,
           -35.8, -35.8, -4.8, 9.5, 9.5, 30.2, 23.9, 23.9, 30.2, 36.6, 22.3, 20.7, 21.5, 9.5, 12.7, -3.2, -3.2, 17.5, 25.5, 25.5,
           20.7, 13.5, 25.5, 40.6, 36.6, 14.3, -8.0, -17.5, -20.7, -28.6, -36.6, -38.2, -41.4, -46.2, -72.4, -46.2, -36.6, -30.2, -16.7, 0,
           28.6, 50.9, 76.4, 74.8, 83.6, 83.6, 78.8, 71.6, 50.9, 33.4, 19.1, 4.8, -4.8, -11.1, -13.5, -22.3, -33.4, -47.7, -38.2, -41.4,
           -39.0, -39.8, -42.2, -38.2, -31.0, -17.5, -14.3, -6.4, 3.2, -11.1, 0, 8.0, 8.8, -8.0, -9.5, -8.0, -8.0, 11.1, 15.9, 16.7,
           16.7, 23.9, 30.2, 38.2, 39.8, 37.4, 36.6, 30.2, 27.1, 12.7, 6.4, -1.6, -4.8, -7.2, -23.1, -23.9, -36.6, -42.2, -42.2, -23.1,
           -22.3, -9.5, 0, 11.1, 9.5, 30.2, 36.6, 4.8, -4.8, -4.8, 41.4, 0, 0]

x_ticks = [0, 0.01, 0.02, 0.03, 0.04, 0.05]
y_ticks_a = [-0.03, -0.015, 0, 0.015, 0.03]
y_ticks_b = [-0.2, -0.1, 0, 0.1, 0.2]
y_ticks_c = [-0.016, -0.008, 0, 0.008, 0.016]
y_ticks_d = [-0.12, -0.06, 0, 0.06, 0.12]
series_names = ["DTTMM", "Experiment"]

FONT = "Liberation Serif"
INK = "#262626"
TICK_FMT = "return tick == 0 ? '0' : String(parseFloat(tick.toFixed(4)));"


def style_axis(ax, ticks, show_labels):
    ax.ticker = FixedTicker(ticks=ticks)
    ax.axis_line_color = INK
    ax.axis_line_width = 4
    ax.major_tick_line_color = INK
    ax.major_tick_line_width = 4
    ax.major_tick_in = 16
    ax.major_tick_out = 0
    ax.minor_tick_line_color = None
    ax.major_label_text_font = FONT
    ax.major_label_text_color = INK
    ax.axis_label_text_font = FONT
    ax.axis_label_text_font_size = "68px"
    ax.axis_label_text_font_style = "normal"
    ax.axis_label_text_color = INK
    if show_labels:
        ax.major_label_text_font_size = "66px"
        ax.formatter = CustomJSTickFormatter(code=TICK_FMT)
    else:
        ax.major_label_text_font_size = "0px"
        ax.major_label_standoff = 0
        ax.formatter = CustomJSTickFormatter(code="return '';")


def make_panel(t_sim, v_sim, t_exp, v_exp, scale, yticks, letter,
               borders, legend_x, letter_offset, ylabel_standoff):
    left, right, top, bottom = borders
    p = figure(width=1947, height=1243, output_backend="svg", toolbar_location=None,
               x_range=Range1d(x_ticks[0], x_ticks[-1]),
               y_range=Range1d(yticks[0], yticks[-1]),
               min_border_left=left, min_border_right=right,
               min_border_top=top, min_border_bottom=bottom)
    p.grid.visible = False
    p.outline_line_color = INK
    p.outline_line_width = 4

    n1 = min(len(t_sim), len(v_sim))
    n2 = min(len(t_exp), len(v_exp))
    ts = np.array(t_sim[:n1]) / 1000.0
    vs = np.array(v_sim[:n1]) * scale
    te = np.array(t_exp[:n2]) / 1000.0
    ve = np.array(v_exp[:n2]) * scale

    r_sim = p.line(ts, vs, line_color="#ff0000", line_width=5, line_dash="15 8")
    r_exp = p.line(te, ve, line_color="#0000ff", line_width=5)

    bottom_ax = p.below[0]
    left_ax = p.left[0]
    top_ax = LinearAxis()
    right_ax = LinearAxis()
    p.add_layout(top_ax, "above")
    p.add_layout(right_ax, "right")

    style_axis(bottom_ax, x_ticks, True)
    style_axis(left_ax, yticks, True)
    style_axis(top_ax, x_ticks, False)
    style_axis(right_ax, yticks, False)

    bottom_ax.axis_label = "Time t/s"
    bottom_ax.major_label_standoff = 40
    bottom_ax.axis_label_standoff = 20
    left_ax.axis_label = "Velocity  v/(m/s)"
    left_ax.major_label_standoff = 26
    left_ax.axis_label_standoff = ylabel_standoff

    legend = Legend(items=[LegendItem(label=series_names[0], renderers=[r_sim]),
                           LegendItem(label=series_names[1], renderers=[r_exp])],
                    orientation="horizontal", location=(legend_x, 711),
                    glyph_width=127, glyph_height=30, label_standoff=19, spacing=87,
                    padding=0, margin=0, border_line_color=None, background_fill_alpha=0,
                    label_text_font=FONT, label_text_font_size="70px", label_text_color=INK,
                    label_height=70)
    p.add_layout(legend)

    cap = Title(text=letter, align="left", offset=letter_offset, text_font=FONT,
                text_font_size="80px", text_font_style="bold", text_color=INK, standoff=60)
    p.add_layout(cap, "below")
    return p


pa = make_panel(t_a_sim, v_a_sim, t_a_exp, v_a_exp, 1e-3, y_ticks_a, "(a)",
                (319, 316, 69, 346), 108, 548, 5)
pb = make_panel(t_b_sim, v_b_sim, t_b_exp, v_b_exp, 1.0, y_ticks_b, "(b)",
                (500, 83, 69, 346), 163, 601, 12)
pc = make_panel(t_c_sim, v_c_sim, t_c_exp, v_c_exp, 1e-3, y_ticks_c, "(c)",
                (319, 318, 86, 330), 109, 548, 5)
pd = make_panel(t_d_sim, v_d_sim, t_d_exp, v_d_exp, 1e-3, y_ticks_d, "(d)",
                (522, 85, 86, 330), 139, 579, 2)

layout = column(row(pa, pb), row(pc, pd))
open("out.html", "w").write(file_html(layout, INLINE))
